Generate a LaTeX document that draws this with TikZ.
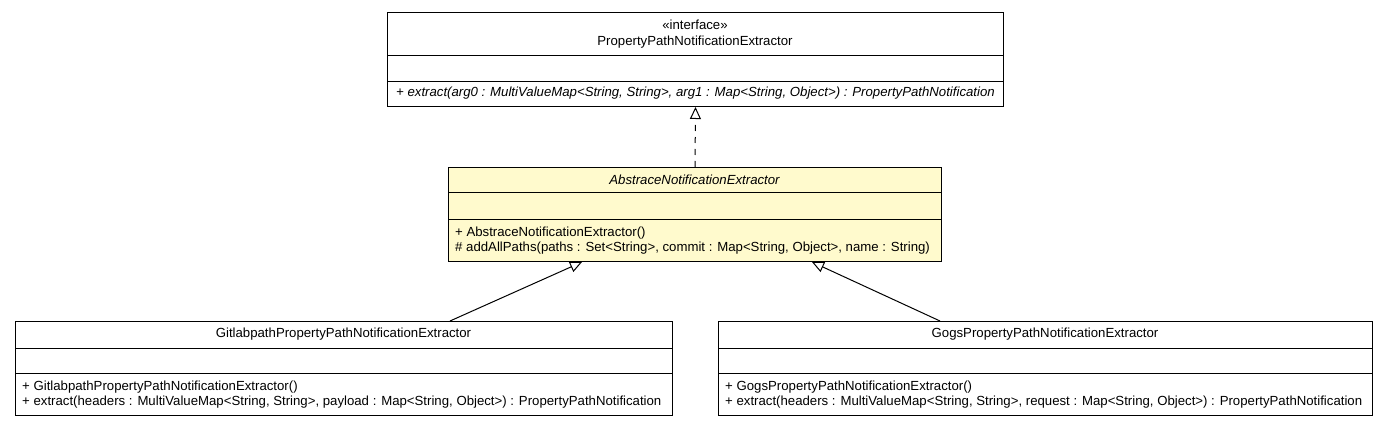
\documentclass[tikz,border=0pt]{standalone}
\usepackage{fontspec}
\setmainfont{Liberation Sans}
\usetikzlibrary{arrows.meta}
\definecolor{absfill}{RGB}{255,250,205}
\tikzset{
  classbox/.style={draw=black, line width=1pt, anchor=north west, inner sep=0pt, fill=white},
  divider/.style={draw=black, line width=1pt},
  title/.style={font=\fontsize{13.2}{15}\selectfont, inner sep=0pt, anchor=center},
  member/.style={font=\fontsize{13.2}{15}\selectfont, inner sep=0pt, anchor=west},
  realize/.style={draw=black, line width=1pt, dash pattern=on 6pt off 6pt, -{Triangle[open, length=12pt, width=11pt, fill=white]}},
  inherit/.style={draw=black, line width=1pt, -{Triangle[open, length=12pt, width=11pt, fill=white]}}
}
\begin{document}
\begin{tikzpicture}[x=1pt,y=-1pt]
\useasboundingbox (0,0) rectangle (1388,427);
% interface
\node[classbox, minimum width=616pt, minimum height=94pt] (iface) at (387,12) {};
\draw[divider] (387,56) -- (1003,56);
\draw[divider] (387,82) -- (1003,82);
\node[title] (ifst) at (695,25) {«interface»};
\node[title] (ifname) at (695,42) {PropertyPathNotificationExtractor};
\node[member] (ifm1) at (396,93) {\itshape + extract(arg0 : MultiValueMap<String, String>, arg1 : Map<String, Object>) : PropertyPathNotification};
% abstract
\node[classbox, fill=absfill, minimum width=493pt, minimum height=94pt] (abs) at (448,167) {};
\draw[divider] (448,193) -- (941,193);
\draw[divider] (448,220) -- (941,220);
\node[title] (absname) at (694.5,180) {\itshape AbstraceNotificationExtractor};
\node[member] (absm1) at (455,233) {+ AbstraceNotificationExtractor()};
\node[member] (absm2) at (455,248) {\# addAllPaths(paths : Set<String>, commit : Map<String, Object>, name : String)};
% gitlab
\node[classbox, minimum width=657pt, minimum height=94pt] (git) at (15,321) {};
\draw[divider] (15,348) -- (672,348);
\draw[divider] (15,373) -- (672,373);
\node[title] (gitname) at (343.5,334) {GitlabpathPropertyPathNotificationExtractor};
\node[member] (gitm1) at (22,387) {+ GitlabpathPropertyPathNotificationExtractor()};
\node[member] (gitm2) at (22,402) {+ extract(headers : MultiValueMap<String, String>, payload : Map<String, Object>) : PropertyPathNotification};
% gogs
\node[classbox, minimum width=654pt, minimum height=94pt] (gogs) at (718,321) {};
\draw[divider] (718,348) -- (1372,348);
\draw[divider] (718,373) -- (1372,373);
\node[title] (gogsname) at (1045,334) {GogsPropertyPathNotificationExtractor};
\node[member] (gogsm1) at (725,387) {+ GogsPropertyPathNotificationExtractor()};
\node[member] (gogsm2) at (725,402) {+ extract(headers : MultiValueMap<String, String>, request : Map<String, Object>) : PropertyPathNotification};
% connectors
\draw[realize] (abs.north) -- (iface.south);
\draw[inherit] ([xshift=435pt]git.north west) -- ([xshift=134pt]abs.south west);
\draw[inherit] ([xshift=222pt]gogs.north west) -- ([xshift=364pt]abs.south west);
\end{tikzpicture}
\end{document}
